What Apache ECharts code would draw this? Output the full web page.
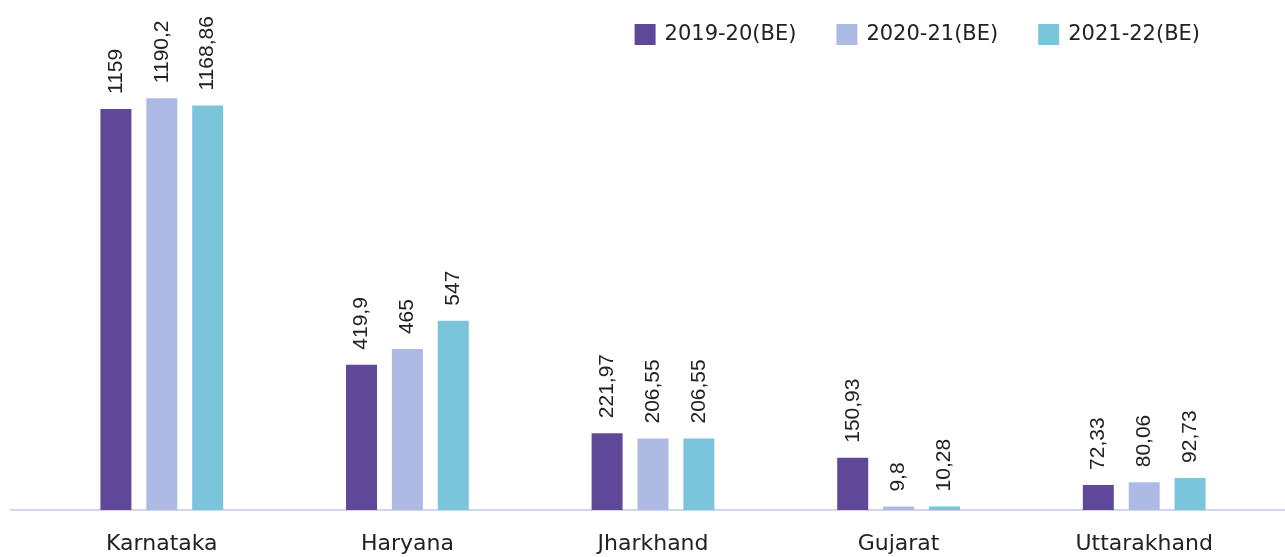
<!DOCTYPE html>
<html>
<head>
<meta charset="utf-8">
<script src="https://cdn.jsdelivr.net/npm/echarts@6/dist/echarts.min.js"></script>
<style>
  html, body { margin: 0; padding: 0; background: #fff; }
  #chart { width: 1285px; height: 557px; }
</style>
</head>
<body>
<div id="chart"></div>
<script>
const categories = ['Karnataka', 'Haryana', 'Jharkhand', 'Gujarat', 'Uttarakhand'];
const seriesNames = ['2019-20(BE)', '2020-21(BE)', '2021-22(BE)'];
const values2019 = [1159, 419.9, 221.97, 150.93, 72.33];
const values2020 = [1190.2, 465, 206.55, 9.8, 80.06];
const values2021 = [1168.86, 547, 206.55, 10.28, 92.73];
const colors = ['#5e4897', '#adbbe4', '#7ac5dc'];

const chart = echarts.init(document.getElementById('chart'));

// comma as decimal separator, like the source
const labelFmt = (p) => String(p.value).replace('.', ',');

const makeSeries = (name, data, color) => ({
  name,
  type: 'bar',
  data,
  barWidth: 31,
  barGap: '48%',
  itemStyle: { color },
  label: {
    show: true,
    position: 'top',
    rotate: 90,
    align: 'left',
    verticalAlign: 'middle',
    distance: 15,
    formatter: labelFmt,
    color: '#222',
    fontSize: 21,
    fontFamily: 'Liberation Sans, Arial, sans-serif',
  },
});

chart.setOption({
  animation: false,
  legend: {
    top: 19,
    right: 80,
    itemWidth: 21,
    itemHeight: 21,
    itemGap: 40,
    icon: 'rect',
    textStyle: { color: '#222', fontSize: 21, fontFamily: 'DejaVu Sans, sans-serif', padding: [0, 0, 0, 4] },
    data: seriesNames,
  },
  grid: { left: 39, right: 18, top: 20, bottom: 47 },
  xAxis: {
    type: 'category',
    data: categories,
    axisLine: { show: false },
    axisTick: { show: false },
    axisLabel: { color: '#222', fontSize: 22, fontFamily: 'DejaVu Sans, sans-serif', margin: 23 },
  },
  yAxis: {
    type: 'value',
    min: 0,
    max: 1416,
    show: false,
    splitLine: { show: false },
  },
  graphic: [{
    type: 'line',
    shape: { x1: 10, y1: 510, x2: 1285, y2: 510 },
    style: { stroke: '#cfd6ee', lineWidth: 2 },
    z: 0,
  }],
  series: [
    makeSeries(seriesNames[0], values2019, colors[0]),
    makeSeries(seriesNames[1], values2020, colors[1]),
    makeSeries(seriesNames[2], values2021, colors[2]),
  ],
});
</script>
</body>
</html>
